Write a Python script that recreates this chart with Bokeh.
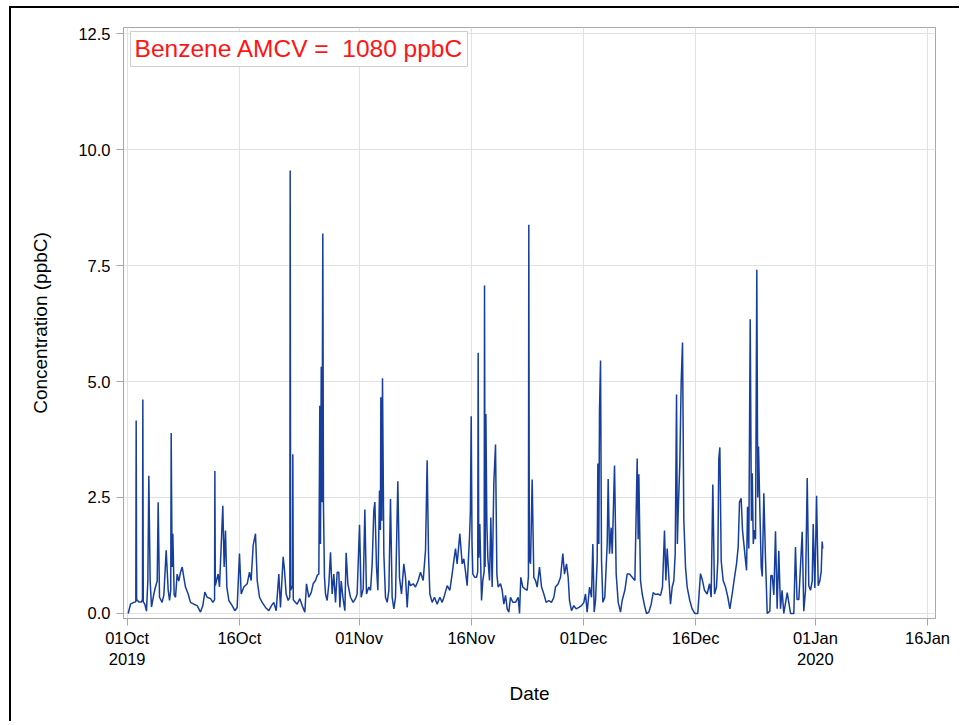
import pandas as pd
from bokeh.plotting import figure
from bokeh.models import Range1d, FixedTicker, PrintfTickFormatter, Label, ColumnDataSource
from bokeh.embed import file_html
from bokeh.resources import INLINE

START = "2019-10-01"

# ---- data: day offsets from 01Oct2019 00:00 and benzene concentration (ppbC) ----
oct_days = [0.13, 0.44, 0.89, 1.15, 1.20, 1.26, 1.56, 1.91, 2.04, 2.09, 2.15, 2.36, 2.58, 2.76, 2.89,
            3.07, 3.25, 3.56, 3.78, 4.01, 4.14, 4.32, 4.67, 4.90, 5.21, 5.48, 5.66, 5.82, 5.88, 6.00,
            6.10, 6.28, 6.46, 6.68, 6.90, 7.13, 7.35, 7.57, 7.79, 8.15, 8.46, 8.91, 9.35, 9.80, 10.11,
            10.38, 10.69, 11.14, 11.45, 11.68, 11.72, 11.78, 11.94, 12.16, 12.34, 12.61, 12.78, 12.96,
            13.14, 13.32, 13.59, 14.03, 14.39, 14.70, 15.01, 15.24, 15.59, 16.04, 16.35, 16.57, 16.84,
            17.15, 17.38, 17.69, 18.04, 18.49, 18.93, 19.29, 19.60, 19.92, 20.27, 20.49, 20.85, 21.03,
            21.25, 21.52, 21.74, 21.79, 21.85, 22.10, 22.14, 22.20, 22.28, 22.72, 23.08, 23.39, 23.75,
            23.97, 24.28, 24.60, 24.86, 25.17, 25.40, 25.62, 25.75, 25.84, 25.94, 26.04, 26.15, 26.24,
            26.37, 26.51, 26.73, 26.96, 27.18, 27.40, 27.62, 27.85, 28.07, 28.29, 28.43, 28.61, 28.83,
            29.10, 29.27, 29.50, 29.85, 30.21, 30.52, 30.74]
oct_vals = [0.00, 0.20, 0.24, 0.25, 4.16, 0.30, 0.25, 0.25, 0.30, 4.61, 0.25, 0.20, 0.05, 0.71, 2.97,
            0.70, 0.14, 0.42, 0.57, 0.70, 2.40, 0.35, 0.24, 0.40, 1.36, 0.50, 0.28, 0.50, 3.89, 1.00,
            1.72, 0.40, 0.35, 0.85, 0.70, 0.89, 1.00, 0.78, 0.57, 0.42, 0.24, 0.20, 0.17, 0.03, 0.17,
            0.46, 0.35, 0.32, 0.24, 0.30, 3.07, 0.60, 0.71, 0.85, 0.57, 1.64, 2.32, 1.00,
            1.79, 0.57, 0.28, 0.17, 0.06, 0.13, 1.29, 0.42, 0.57, 0.64, 0.89, 0.71, 1.47,
            1.72, 0.71, 0.35, 0.24, 0.13, 0.06, 0.17, 0.24, 0.06, 0.85, 0.13, 1.22, 0.93,
            0.42, 0.28, 0.35, 9.55, 0.50, 0.60, 3.43, 0.30, 0.28, 0.20, 0.32, 0.17, 0.03,
            0.64, 0.35, 0.45, 0.64, 0.71, 0.82, 0.85, 4.48, 1.50, 5.32, 2.40, 8.19, 2.30,
            0.80, 0.42, 0.28, 0.64, 1.32, 0.42, 0.85, 0.24, 0.89, 0.89, 0.13, 0.70, 0.35,
            0.06, 1.31, 0.64, 0.35, 0.24, 0.32, 0.42]

nov_days = [31.06, 31.28, 31.55, 31.77, 31.99, 32.30, 32.53, 32.75, 32.97, 33.11, 33.33, 33.51, 33.73,
            33.85, 33.91, 34.04, 34.13, 34.31, 34.53, 34.76, 34.98, 35.20, 35.42, 35.65, 35.87, 36.18,
            36.40, 36.67, 36.98, 37.21, 37.43, 37.65, 37.87, 38.23, 38.54, 38.90, 39.21, 39.57, 39.88,
            40.10, 40.28, 40.46, 40.77, 41.08, 41.44, 41.80, 42.11, 42.42, 42.78, 43.13, 43.44, 43.67,
            43.89, 44.11, 44.47, 44.78, 45.00, 45.23, 45.45, 45.76, 45.88, 45.99, 46.10, 46.21, 46.47,
            46.70, 46.86, 46.92, 47.00, 47.14, 47.37, 47.54, 47.72, 47.77, 47.85, 47.95, 48.08, 48.21,
            48.44, 48.61, 48.79, 49.01, 49.24, 49.42, 49.59, 49.91, 50.13, 50.35, 50.58, 50.80, 51.02,
            51.24, 51.56, 51.91, 52.27, 52.45, 52.62, 52.89, 53.16, 53.47, 53.64, 53.69, 53.76, 53.92,
            54.14, 54.36, 54.59, 54.81, 55.12, 55.39, 55.70, 56.01, 56.37, 56.72, 57.04, 57.26, 57.62,
            57.93, 58.24, 58.46, 58.73, 58.95, 59.13, 59.40, 59.71, 60.02, 60.38, 60.74]
nov_vals = [1.91, 0.35, 0.53, 2.24, 0.42, 0.57, 0.50, 1.07, 2.22, 2.40, 1.00, 0.50, 2.65,
            1.80, 4.66, 2.00, 5.07, 1.29, 0.35, 0.24, 0.50, 2.47, 0.35, 0.10, 0.35, 2.85,
            0.78, 0.42, 1.07, 0.78, 0.13, 0.71, 0.60, 0.64, 0.57, 0.71, 0.89, 0.71, 1.36,
            3.30, 1.29, 0.42, 0.24, 0.35, 0.20, 0.35, 0.24, 0.39, 0.60, 0.50, 0.85, 1.14,
            1.40, 1.07, 1.72, 1.07, 1.18, 0.90, 0.60, 1.64, 2.20, 4.25, 1.50, 0.85, 0.78,
            0.78, 0.90, 5.62, 1.20, 1.93, 0.28, 0.71, 0.90, 7.07, 1.00, 4.30, 1.95, 1.20,
            0.71, 2.07, 0.57, 2.80, 3.64, 0.85, 0.57, 0.64, 0.50, 0.20, 0.39, 0.10, 0.03,
            0.35, 0.24, 0.24, 0.35, 0.00, 0.78, 0.57, 0.53, 0.50, 0.80, 8.38, 1.20, 1.07,
            2.89, 0.78, 0.71, 0.57, 1.00, 0.57, 0.42, 0.24, 0.28, 0.24, 0.35, 0.57, 0.64,
            0.78, 1.29, 0.85, 1.07, 0.78, 0.28, 0.06, 0.17, 0.10, 0.13, 0.17]

dec_days = [61.05, 61.27, 61.49, 61.81, 62.07, 62.25, 62.43, 62.61, 62.83, 62.92, 63.05, 63.14, 63.28,
            63.41, 63.59, 63.85, 64.17, 64.30, 64.48, 64.70, 64.84, 65.15, 65.37, 65.64, 65.95, 66.17,
            66.53, 66.84, 67.15, 67.51, 67.87, 68.18, 68.31, 68.40, 68.62, 68.85, 69.16, 69.43, 69.74,
            70.05, 70.32, 70.63, 70.94, 71.30, 71.56, 71.83, 72.01, 72.19, 72.41, 72.63, 72.86, 73.08,
            73.26, 73.44, 73.55, 73.66, 73.88, 74.06, 74.24, 74.41, 74.64, 74.86, 75.21, 75.52, 75.88,
            76.28, 76.64, 76.91, 77.18, 77.53, 77.85, 78.07, 78.29, 78.52, 78.78, 78.96, 79.09, 79.23,
            79.41, 79.67, 79.99, 80.30, 80.57, 80.88, 81.19, 81.46, 81.68, 81.86, 82.08, 82.26, 82.44,
            82.66, 82.80, 82.93, 83.10, 83.29, 83.45, 83.56, 83.70, 83.86, 84.00, 84.17, 84.30, 84.40,
            84.57, 84.76, 84.90, 85.11, 85.33, 85.56, 85.91, 86.05, 86.23, 86.45, 86.67, 86.89, 87.11,
            87.34, 87.55, 87.78, 88.24, 88.68, 89.12, 89.34, 89.55, 89.79, 90.24, 90.45, 90.68, 90.91,
            91.12, 91.35, 91.58, 91.71, 91.93, 92.16, 92.38, 92.59, 92.78, 92.91, 92.99]
dec_vals = [0.24, 0.42, 0.03, 0.57, 0.35, 1.50, 0.03, 0.28, 1.14, 3.23, 1.50, 4.37, 5.45,
            1.14, 0.24, 0.35, 1.50, 2.90, 1.29, 1.85, 1.29, 3.19, 0.85, 0.24, 0.03, 0.28,
            0.50, 0.85, 0.85, 0.78, 0.71, 3.34, 1.60, 3.00, 0.71, 0.42, 0.17, 0.00, 0.03,
            0.20, 0.45, 0.41, 0.42, 0.39, 0.57, 1.79, 0.71, 1.40, 0.78, 0.20, 0.57, 0.71,
            1.29, 4.72, 1.50, 2.20, 3.23, 4.98, 5.84, 2.04, 1.00, 0.57, 0.28, 0.10, 0.00,
            0.00, 0.86, 0.71, 0.50, 0.42, 0.64, 0.35, 2.78, 0.42, 0.57, 1.14, 3.34, 3.58,
            1.14, 0.71, 0.57, 0.35, 0.10, 0.42, 0.78, 1.07, 1.43, 2.40, 2.48, 1.79, 1.50,
            1.14, 0.93, 2.30, 1.40, 6.34, 2.00, 3.02, 1.50, 1.80, 1.60, 7.41, 2.50, 3.60,
            2.30, 1.00, 0.80, 2.59, 1.20, 0.00, 0.05, 0.82, 0.82, 0.40, 1.77, 0.10, 1.35,
            0.10, 0.50, 0.00, 0.45, 0.00, 0.00, 1.43, 0.30, 0.30, 1.76, 0.05, 0.50, 2.92,
            0.60, 0.50, 0.70, 1.93, 0.55, 2.54, 0.60, 0.70, 0.90, 1.55, 1.40]

x_tick_dates = ["2019-10-01", "2019-10-16", "2019-11-01", "2019-11-16",
                "2019-12-01", "2019-12-16", "2020-01-01", "2020-01-16"]
x_tick_labels = ["01Oct\n2019", "16Oct", "01Nov", "16Nov", "01Dec", "16Dec", "01Jan\n2020", "16Jan"]
y_ticks = [0.0, 2.5, 5.0, 7.5, 10.0, 12.5]

note_text = "Benzene AMCV =\u00a0\u00a01080 ppbC"

# ---- build ----
days = oct_days + nov_days + dec_days
vals = oct_vals + nov_vals + dec_vals
t0 = pd.Timestamp(START)
times = t0 + pd.to_timedelta(days, unit="D")
src = ColumnDataSource(dict(t=times, v=vals))

FONT = "Liberation Sans"

p = figure(width=950, height=715, x_axis_type="datetime",
           x_range=Range1d(t0 - pd.Timedelta(days=0.495), t0 + pd.Timedelta(days=108.06)),
           y_range=Range1d(-0.108, 12.63),
           output_backend="svg", toolbar_location=None,
           min_border_left=112, min_border_right=26, min_border_top=19, min_border_bottom=105)
p.styles = {"margin-left": "9px", "margin-top": "6px",
            "border-left": "2px solid black", "border-top": "2px solid black"}

p.line(x="t", y="v", source=src, line_color="#163e9c", line_width=1.5)

tick_ms = [int(pd.Timestamp(d).value // 10**6) for d in x_tick_dates]
p.xaxis.ticker = FixedTicker(ticks=tick_ms)
p.xaxis.major_label_overrides = {ms: lab for ms, lab in zip(tick_ms, x_tick_labels)}
p.yaxis.ticker = FixedTicker(ticks=y_ticks)
p.yaxis.formatter = PrintfTickFormatter(format="%.1f")

p.xaxis.axis_label = "Date"
p.yaxis.axis_label = "Concentration (ppbC)"
for ax in (p.xaxis, p.yaxis):
    ax.axis_label_text_font = FONT
    ax.axis_label_text_font_size = "19px"
    ax.axis_label_text_font_style = "normal"
    ax.axis_label_text_color = "#000000"
    ax.major_label_text_font = FONT
    ax.major_label_text_font_size = "16.5px"
    ax.major_label_text_color = "#000000"
    ax.axis_line_color = "#a8a8a8"
    ax.major_tick_line_color = "#a8a8a8"
    ax.major_tick_out = 7
    ax.major_tick_in = 0
    ax.minor_tick_line_color = None
    ax.major_label_standoff = 6
p.xaxis.major_label_standoff = 3
p.xaxis.axis_label_standoff = 12
p.yaxis.axis_label_standoff = 24

p.xgrid.grid_line_color = "#e2e2e2"
p.ygrid.grid_line_color = "#e2e2e2"
p.outline_line_color = "#a8a8a8"
p.outline_line_alpha = 1.0

note = Label(x=t0 + pd.Timedelta(days=0.45), y=12.545, x_units="data", y_units="data",
             text=note_text, text_font=FONT, text_font_size="24.5px", text_color="#ff1414",
             text_align="left", text_baseline="top",
             border_line_color="#cccccc", background_fill_color="white", padding=4)
p.add_layout(note)

open("out.html", "w").write(file_html(p, INLINE))
